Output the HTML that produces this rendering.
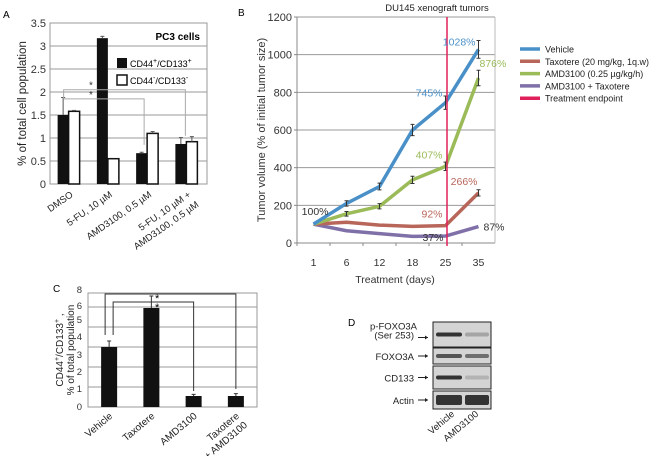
<!DOCTYPE html>
<html><head><meta charset="utf-8"><style>
body{margin:0;background:#fff;}
svg{display:block;font-family:"Liberation Sans",sans-serif;}
</style></head><body>
<svg id="fig" width="661" height="456" viewBox="0 0 661 456">
<g id="pa"></g>
<g id="pb"></g>
<g id="pc"></g>
<g id="pd"></g>
</svg>
<script>
// Panel A data
const aCats = ["DMSO","5-FU, 10 µM","AMD3100, 0.5 µM","5-FU, 10 µM +|AMD3100, 0.5 µM"];
const aPos = [1.5, 3.17, 0.67, 0.87];
const aNeg = [1.58, 0.55, 1.1, 0.92];
const aPosErr = [0.38, 0.04, 0.02, 0.14];
const aNegErr = [0.02, 0.0, 0.04, 0.11];
const aTicks = [0,0.5,1,1.5,2,2.5,3,3.5];
// Panel B data
const bDays = ["1","6","12","18","25","35"];
const bVehicle = [100,210,300,600,745,1028];
const bTaxotere = [100,110,95,88,92,266];
const bAMD = [100,155,195,335,407,876];
const bCombo = [100,65,50,35,37,87];
const bTicks = [0,200,400,600,800,1000,1200];
// Panel C data
const cCats = ["Vehicle","Taxotere","AMD3100","Taxotere|+ AMD3100"];
const cVals = [3.0, 4.95, 0.55, 0.55];
const cErr = [0.3, 0.6, 0.08, 0.12];
const cTicks = ["0","1","2","3","4","5","6","8"];

const NS="http://www.w3.org/2000/svg";
function mk(parent,tag,attrs,txt){const e=document.createElementNS(NS,tag);for(const k in attrs)e.setAttribute(k,attrs[k]);if(txt!==undefined)e.textContent=txt;parent.appendChild(e);return e;}

// ---------- Panel A ----------
(function(){
const g=document.getElementById('pa');
const L=50,R=207,T=23,B=184;
const y=v=>B-(v/3.5)*(B-T);
const cw=(R-L)/4;
const t=mk(g,'text',{x:3,y:18,'font-size':10});
t.textContent='A';
aTicks.forEach(v=>{
 const l=mk(g,'line',{x1:L,x2:R,y1:y(v),y2:y(v),stroke:'#999','stroke-width':1});
 
 const tx=mk(g,'text',{x:L-4,y:y(v)+4,'text-anchor':'end','font-size':11,fill:'#333'},String(v));
 
});
mk(g,'rect',{x:L,y:T,width:R-L,height:B-T,fill:'none',stroke:'#999'});
const yl=mk(g,'text',{transform:`translate(26,${(T+B)/2}) rotate(-90)`,'text-anchor':'middle','font-size':11.5,fill:'#222'},'% of total cell population');

aCats.forEach((c,i)=>{
 const cx=L+cw*(i+0.5);
 const b1=mk(g,'rect',{x:cx-12,y:y(aPos[i]),width:11,height:B-y(aPos[i]),fill:'#111'});
 
 const b2=mk(g,'rect',{x:cx-1,y:y(aNeg[i]),width:11,height:B-y(aNeg[i]),fill:'#fff',stroke:'#111','stroke-width':1.5});
 
 [[cx-6.5,aPos[i],aPosErr[i]],[cx+4.5,aNeg[i],aNegErr[i]]].forEach(([ex,v,e])=>{
  if(e>0){mk(g,'line',{x1:ex,x2:ex,y1:y(v+e),y2:y(v),stroke:'#555'});mk(g,'line',{x1:ex-2,x2:ex+2,y1:y(v+e),y2:y(v+e),stroke:'#555'});}
 });
 const parts=c.split('|');
 parts.forEach((p,j)=>{
  const tx=mk(g,'text',{transform:`translate(${cx+4+j*8},${B+12+j*10}) rotate(-35)`,'text-anchor':'end','font-size':9.5,fill:'#222'},p);
  
 });
});
const pt=mk(g,'text',{x:200,y:40,'text-anchor':'end','font-size':10,'font-weight':'bold'},'PC3 cells');

mk(g,'rect',{x:117,y:58,width:10,height:10,fill:'#111'});
mk(g,'rect',{x:117,y:75,width:10,height:10,fill:'#fff',stroke:'#111','stroke-width':1.5});
const l1=mk(g,'text',{x:130,y:67,'font-size':9});l1.innerHTML='CD44<tspan dy="-4" font-size="7">+</tspan><tspan dy="4">/CD133</tspan><tspan dy="-4" font-size="7">+</tspan>';

const l2=mk(g,'text',{x:130,y:84,'font-size':9});l2.innerHTML='CD44<tspan dy="-4" font-size="7">-</tspan><tspan dy="4">/CD133</tspan><tspan dy="-4" font-size="7">-</tspan>';

// significance brackets
const x0=L+cw*0.5-6;
mk(g,'polyline',{points:`${x0},${y(1.85)} ${x0},${y(2.05)} ${L+cw*3.5-2},${y(2.05)} ${L+cw*3.5-2},${y(1.05)}`,fill:'none',stroke:'#aaa'});
mk(g,'polyline',{points:`${x0},${y(1.85)} ${L+cw*2.5-4},${y(1.85)} ${L+cw*2.5-4},${y(0.85)}`,fill:'none',stroke:'#aaa'});
mk(g,'text',{x:89,y:y(2.05)-1,'font-size':10,fill:'#333'},'*');
mk(g,'text',{x:89,y:y(1.85)-1,'font-size':10,fill:'#333'},'*');
})();

// ---------- Panel B ----------
(function(){
const g=document.getElementById('pb');
const L=297,R=495,T=17,B=243;
const y=v=>B-(v/1200)*(B-T);
const cw=(R-L)/6;
const x=i=>L+cw*(i+0.5);
const t=mk(g,'text',{x:238,y:16,'font-size':10},'B');

const ti=mk(g,'text',{x:437,y:11,'text-anchor':'middle','font-size':9.5,fill:'#222'},'DU145 xenograft tumors');

bTicks.forEach(v=>{
 const l=mk(g,'line',{x1:L,x2:R,y1:y(v),y2:y(v),stroke:v===0?'#888':'#999'});
 
 mk(g,'line',{x1:L-3,x2:L,y1:y(v),y2:y(v),stroke:'#888'});
 const tx=mk(g,'text',{x:L-5,y:y(v)+4,'text-anchor':'end','font-size':11,fill:'#333'},String(v));
 
});
mk(g,'line',{x1:L,x2:L,y1:T,y2:B,stroke:'#888'});
mk(g,'line',{x1:R,x2:R,y1:T,y2:B,stroke:'#bbb'});
bDays.forEach((d,i)=>{
 mk(g,'line',{x1:L+cw*i,x2:L+cw*i,y1:B,y2:B+3,stroke:'#888'});
 const tx=mk(g,'text',{x:x(i),y:266,'text-anchor':'middle','font-size':10.5,fill:'#333'},d);
 
});
const xt=mk(g,'text',{x:395,y:283,'text-anchor':'middle','font-size':10.5,fill:'#333'},'Treatment (days)');

const yt=mk(g,'text',{transform:`translate(265,${(T+B)/2}) rotate(-90)`,'text-anchor':'middle','font-size':11,fill:'#333'},'Tumor volume (% of initial tumor size)');

const series=[[bCombo,'#7f70a8','combo'],[bTaxotere,'#b8665a','taxotere'],[bAMD,'#9bbb59','amd3100'],[bVehicle,'#4a90c8','vehicle']];
series.forEach(([d,c,n])=>{
 const p=mk(g,'polyline',{points:d.map((v,i)=>x(i)+','+y(v)).join(' '),fill:'none',stroke:c,'stroke-width':3.5,'stroke-linejoin':'round'});
 
});
const errIdx=[[bVehicle,[1,2,3,4,5]],[bAMD,[1,2,3,4,5]],[bTaxotere,[5]]];
errIdx.forEach(([d,idx])=>idx.forEach(i=>{const e=d[i]*0.04+6;mk(g,'path',{d:`M${x(i)-2},${y(d[i]+e)}h4M${x(i)},${y(d[i]+e)}V${y(d[i]-e)}M${x(i)-2},${y(d[i]-e)}h4`,stroke:'#333','stroke-width':1,fill:'none'});}));
const rl=mk(g,'line',{x1:447,x2:447,y1:T,y2:B+3,stroke:'#e0205a','stroke-width':1.5});

const labs=[[x(0)-1,y(bVehicle[0])-9,'100%','#333','end',16],[x(5)-3,y(bVehicle[5])-4,bVehicle[5]+'%','#4a90c8','end',0],[x(4)-3,y(bVehicle[4])-6,bVehicle[4]+'%','#4a90c8','end',0],[x(5)+1,y(bAMD[5])-11,bAMD[5]+'%','#9bbb59','start',0],[x(4)-3,y(bAMD[4])-8,bAMD[4]+'%','#9bbb59','end',0],[x(5)-1,y(bTaxotere[5])-8,bTaxotere[5]+'%','#b8665a','end',0],[x(4)-3,y(bTaxotere[4])-8,bTaxotere[4]+'%','#b8665a','end',0],[x(4)-2,y(bCombo[4])+5,bCombo[4]+'%','#333','end',0],[x(5)+5,y(bCombo[5])+4,bCombo[5]+'%','#333','start',0]];
labs.forEach(([lx,ly,s,c,a,dx])=>{const tx=mk(g,'text',{x:lx+dx,y:ly,'text-anchor':a,'font-size':10.5,fill:c},s);});
const leg=[['Vehicle','#4a90c8'],['Taxotere (20 mg/kg, 1q.w)','#b8665a'],['AMD3100 (0.25 µg/kg/h)','#9bbb59'],['AMD3100 + Taxotere','#7f70a8'],['Treatment endpoint','#e0205a']];
leg.forEach(([s,c],i)=>{
 const yy=49+i*12.3;
 mk(g,'line',{x1:520,x2:540,y1:yy,y2:yy,stroke:c,'stroke-width':3.5});
 const tx=mk(g,'text',{x:545,y:yy+3.5,'font-size':9,fill:'#222'},s);
 
});
})();

// ---------- Panel C ----------
(function(){
const g=document.getElementById('pc');
const L=88,R=257,T=293,B=407;
const y=v=>B-v*20;
const cw=(R-L)/4;
const t=mk(g,'text',{x:53,y:292,'font-size':10},'C');

for(let k=0;k<=5;k++){mk(g,'line',{x1:L,x2:R,y1:y(k),y2:y(k),stroke:'#999'});}
mk(g,'rect',{x:L,y:T,width:R-L,height:B-T,fill:'none',stroke:'#999'});
const tickY=[407,389,372,355,337,320,306,290];
cTicks.forEach((s,i)=>{const tx=mk(g,'text',{x:L-6,y:tickY[i]+3,'text-anchor':'end','font-size':9.5,fill:'#333'},s);});
const yt=mk(g,'text',{transform:`translate(63,350) rotate(-90)`,'text-anchor':'middle','font-size':10,fill:'#222'});
yt.innerHTML='CD44<tspan dy="-4" font-size="7">+</tspan><tspan dy="4">/CD133</tspan><tspan dy="-4" font-size="7">+</tspan><tspan dy="4"> ,</tspan>';

const yt2=mk(g,'text',{transform:`translate(74,350) rotate(-90)`,'text-anchor':'middle','font-size':10,fill:'#222'},'% of total population');

cCats.forEach((c,i)=>{
 const cx=L+cw*(i+0.5);
 const b=mk(g,'rect',{x:cx-8,y:y(cVals[i]),width:16,height:B-y(cVals[i]),fill:'#111'});
 
 const e=cErr[i];
 mk(g,'path',{d:`M${cx},${y(cVals[i])}V${y(cVals[i]+e)}M${cx-2},${y(cVals[i]+e)}h4`,stroke:'#333',fill:'none'});
 c.split('|').forEach((p,j)=>{const tx=mk(g,'text',{transform:`translate(${cx+4+j*8},${B+10+j*9}) rotate(-40)`,'text-anchor':'end','font-size':10,fill:'#222'},p);});
});
const c0=L+cw*0.5;
mk(g,'polyline',{points:`${c0-4},${y(3.6)} ${c0-4},${T+1} ${L+cw*3.5},${T+1} ${L+cw*3.5},${y(0.9)}`,fill:'none',stroke:'#333'});
mk(g,'polyline',{points:`${c0+4},${y(3.6)} ${c0+4},${T+9} ${L+cw*2.5},${T+9} ${L+cw*2.5},${y(0.8)}`,fill:'none',stroke:'#333'});
mk(g,'text',{x:155,y:T+9,'font-size':11},'*');
mk(g,'text',{x:155,y:T+18,'font-size':11},'*');
})();

// ---------- Panel D ----------
(function(){
const g=document.getElementById('pd');
const t=mk(g,'text',{x:348,y:326,'font-size':10},'D');

const rows=[['p-FOXO3A|(Ser 253)',322,347,'#333','#999'],['FOXO3A',348,364,'#555','#555'],['CD133',366,389,'#333','#aaa'],['Actin',391,409,'#333','#333']];
rows.forEach(([lab,y0,y1,c1,c2])=>{
 const r=mk(g,'rect',{x:433,y:y0,width:58,height:y1-y0,fill:'#d4d4d4',stroke:'#222','stroke-width':1});
 
 const my=(y0+y1)/2;
 const bh=lab==='Actin'?10:4;
 mk(g,'rect',{x:436,y:my-bh/2,width:26,height:bh,fill:c1,rx:2});
 mk(g,'rect',{x:465,y:my-bh/2,width:24,height:bh,fill:c2,rx:2,opacity:lab==='Actin'?1:0.8});
 const parts=lab.split('|');
 parts.forEach((p,j)=>{const tx=mk(g,'text',{x:lab.includes('|')?(j?414:417):414,y:(parts.length>1?my-5+j*9:my+4),'text-anchor':'end','font-size':9.5,fill:'#222'},p);});
 mk(g,'path',{d:`M418,${my+ (parts.length>1?3:0)}h10`,stroke:'#222','stroke-width':1});
 mk(g,'path',{d:`M425,${my-2+(parts.length>1?3:0)}l3,2l-3,2z`,fill:'#222'});
});
['Vehicle','AMD3100'].forEach((s,i)=>{const tx=mk(g,'text',{transform:`translate(${455+i*24},415) rotate(-40)`,'text-anchor':'end','font-size':9.5,fill:'#222'},s);});
})();
</script>
</body></html>
